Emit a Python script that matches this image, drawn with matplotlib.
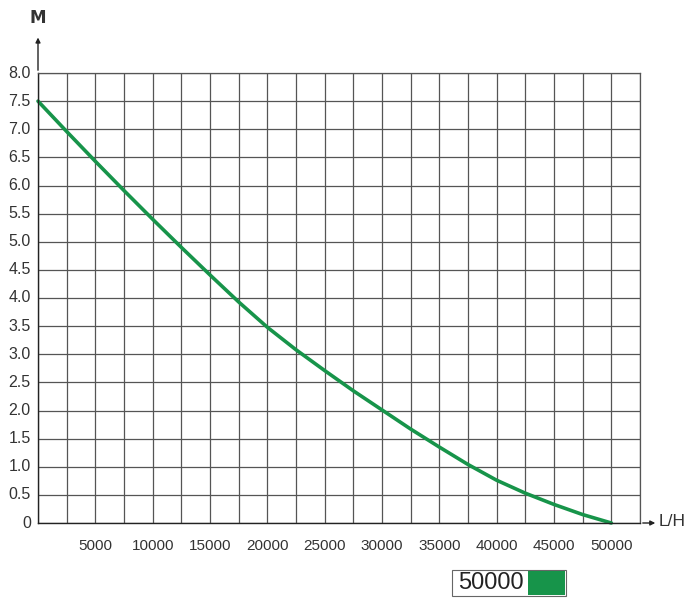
import numpy as np
import matplotlib.pyplot as plt
from matplotlib.patches import Rectangle

# flow (L/H) vs head (M)
flow = [0, 2500, 5000, 7500, 10000, 12500, 15000, 17500, 20000, 22500, 25000,
        27500, 30000, 32500, 35000, 37500, 40000, 42500, 45000, 47500, 50000]
head = [7.5, 6.96, 6.43, 5.91, 5.40, 4.90, 4.41, 3.93, 3.48, 3.08, 2.71,
        2.35, 2.01, 1.67, 1.35, 1.04, 0.76, 0.53, 0.33, 0.15, 0.0]

x_labels = [5000, 10000, 15000, 20000, 25000, 30000, 35000, 40000, 45000, 50000]
y_ticks = np.arange(0, 8.01, 0.5)
legend_label = "50000"

green = '#17944a'
grid_col = '#555555'
text_col = '#333333'

fig = plt.figure(figsize=(6.97, 6.08), dpi=100)
ax = fig.add_axes([38 / 697, 85 / 608, 602 / 697, 450 / 608])

ax.set_xlim(0, 52500)
ax.set_ylim(0, 8)
ax.set_xticks(np.arange(0, 52501, 2500))
ax.set_yticks(y_ticks)
ax.grid(True, color=grid_col, linewidth=0.9)
ax.tick_params(length=0, labelbottom=False, labelleft=False)
for s in ['top', 'right']:
    ax.spines[s].set_color(grid_col)
    ax.spines[s].set_linewidth(0.9)
for s in ['left', 'bottom']:
    ax.spines[s].set_color('#222222')
    ax.spines[s].set_linewidth(1.0)

ax.plot(flow, head, color=green, linewidth=2.6, solid_capstyle='round',
        solid_joinstyle='round', clip_on=False)

# y labels
for v in y_ticks:
    lab = '0' if v == 0 else f'{v:.1f}'
    ax.text(-0.012, v, lab, transform=ax.get_yaxis_transform(), ha='right', va='center',
            fontsize=11.5, color=text_col, family='Liberation Sans')
# x labels
for v in x_labels:
    ax.text(v, -0.05, str(v), transform=ax.get_xaxis_transform(), ha='center', va='center',
            fontsize=11, color=text_col, family='Liberation Sans')

# axis arrows
ax.annotate('', xy=(0, 1.085), xytext=(0, 1.0), xycoords='axes fraction',
            arrowprops=dict(arrowstyle='-|>', color='#222222', lw=1.0, mutation_scale=7),
            annotation_clip=False)
ax.annotate('', xy=(1.03, 0), xytext=(1.0, 0), xycoords='axes fraction',
            arrowprops=dict(arrowstyle='-|>', color='#222222', lw=1.0, mutation_scale=7),
            annotation_clip=False)
fig.text(38 / 697, 1 - 18 / 608, 'M', ha='center', va='center', fontsize=12,
         fontweight='bold', color=text_col, family='Liberation Sans Narrow')
fig.text(672 / 697, 1 - 522 / 608, 'L/H', ha='center', va='center', fontsize=12.5,
         color=text_col, family='Liberation Sans')

# legend box
fig.patches.append(Rectangle((452 / 697, 1 - 596 / 608), 114 / 697, 26 / 608,
                             transform=fig.transFigure, facecolor='white',
                             edgecolor='#666666', linewidth=0.8))
fig.patches.append(Rectangle((528 / 697, 1 - 595 / 608), 37 / 697, 24 / 608,
                             transform=fig.transFigure, facecolor=green,
                             edgecolor='none'))
fig.text(491 / 697, 1 - 583 / 608, legend_label, ha='center', va='center', fontsize=17,
         color='#222222', family='Liberation Sans')

fig.savefig('out.png', dpi=100)
